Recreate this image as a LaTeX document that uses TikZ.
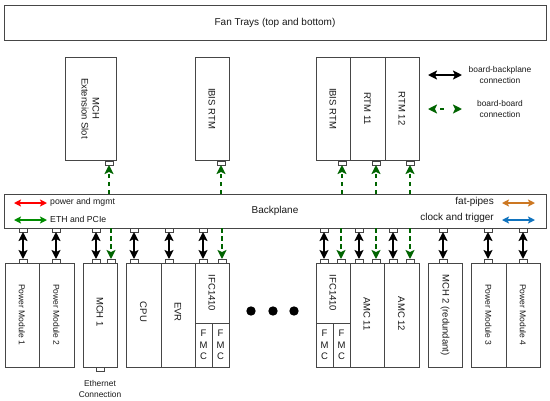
\documentclass[tikz,border=0pt]{standalone}
\usepackage{fontspec}
\setmainfont{Liberation Sans}
\usetikzlibrary{arrows.meta}
\definecolor{linegray}{RGB}{70,70,70}
\definecolor{txt}{RGB}{25,25,25}
\definecolor{pwrred}{RGB}{255,0,0}
\definecolor{ethgreen}{RGB}{0,140,0}
\definecolor{dgreen}{RGB}{0,100,0}
\definecolor{fatorange}{RGB}{204,119,34}
\definecolor{clkblue}{RGB}{16,115,190}
\begin{document}
\begin{tikzpicture}[x=1pt,y=-1pt,
  box/.style={draw=linegray, line width=1pt, inner sep=0pt, outer sep=0pt, anchor=north west, fill=white},
  pinbox/.style={draw=linegray, line width=0.9pt, fill=white, minimum width=8pt, minimum height=4pt, inner sep=0pt, outer sep=0pt},
  lbl/.style={font=\fontsize{9.5}{11}\selectfont, text=txt, rotate=-90, align=center, inner sep=0pt},
  slbl/.style={font=\fontsize{8.5}{10}\selectfont, text=txt, rotate=-90, align=center, inner sep=0pt},
  tiny/.style={font=\fontsize{8.4}{11}\selectfont, text=txt, align=center, inner sep=0pt},
  bb/.style={{Stealth[length=9pt,width=9pt,inset=2pt]}-{Stealth[length=9pt,width=9pt,inset=2pt]}, line width=2.2pt, black},
  gd/.style={-{Stealth[length=9pt,width=9pt,inset=2pt]}, line width=2.2pt, dgreen, dash pattern=on 4.5pt off 3.5pt},
  legarrow/.style={{Stealth[length=7pt,width=7pt,inset=1.5pt]}-{Stealth[length=7pt,width=7pt,inset=1.5pt]}, line width=1.6pt}
]
\useasboundingbox (0,0) rectangle (550,400);

% Fan trays
\node[box, minimum width=542pt, minimum height=35pt] (fan) at (4,5) {};
\node[font=\fontsize{10}{12}\selectfont, text=txt] (fantxt) at (fan.center) {Fan Trays (top and bottom)};

% Top boards
\node[box, minimum width=51pt, minimum height=103pt] (mchx) at (65,57) {};
\node[lbl] (mchxt) at (mchx.center) {MCH\\Extension Slot};
\node[box, minimum width=34pt, minimum height=103pt] (ibis1) at (195,57) {};
\node[lbl] (ibis1t) at (ibis1.center) {IBIS RTM};
\node[box, minimum width=34pt, minimum height=103pt] (ibis2) at (316,57) {};
\node[lbl] (ibis2t) at (ibis2.center) {IBIS RTM};
\node[box, minimum width=35pt, minimum height=103pt] (rtm11) at (350,57) {};
\node[lbl] (rtm11t) at (rtm11.center) {RTM 11};
\node[box, minimum width=34pt, minimum height=103pt] (rtm12) at (385,57) {};
\node[lbl] (rtm12t) at (rtm12.center) {RTM 12};

% Legend
\coordinate (la1) at (428,75); \coordinate (la2) at (462,75);
\draw[bb] (la1) -- (la2);
\node[tiny] (lt1) at (500,75) {board-backplane\\connection};
\coordinate (lb1) at (428,109); \coordinate (lb2) at (462,109);
\draw[{Stealth[length=9pt,width=9pt,inset=2pt]}-{Stealth[length=9pt,width=9pt,inset=2pt]}, line width=2.2pt, dgreen, dash pattern=on 0pt off 6pt on 4pt off 10pt] (lb1) -- (lb2);
\node[tiny] (lt2) at (500,109) {board-board\\connection};

% Backplane
\node[box, minimum width=542pt, minimum height=34pt] (bp) at (4,194) {};
\node[font=\fontsize{10}{12}\selectfont, text=txt] (bptxt) at (275,211) {Backplane};
\coordinate (r1) at (14,203); \coordinate (r2) at (47,203);
\draw[legarrow, pwrred] (r1) -- (r2);
\node[font=\fontsize{8.7}{10}\selectfont, text=txt, anchor=west, inner sep=0pt] (pwr) at (50,202) {power and mgmt};
\coordinate (g1) at (14,220); \coordinate (g2) at (47,220);
\draw[legarrow, ethgreen] (g1) -- (g2);
\node[font=\fontsize{8.7}{10}\selectfont, text=txt, anchor=west, inner sep=0pt] (eth) at (50,219) {ETH and PCIe};
\coordinate (o1) at (502,203); \coordinate (o2) at (535,203);
\draw[legarrow, fatorange] (o1) -- (o2);
\node[font=\fontsize{10}{12}\selectfont, text=txt, anchor=east, inner sep=0pt] (fat) at (494,202) {fat-pipes};
\coordinate (c1) at (502,220); \coordinate (c2) at (535,220);
\draw[legarrow, clkblue] (c1) -- (c2);
\node[font=\fontsize{10}{12}\selectfont, text=txt, anchor=east, inner sep=0pt] (clk) at (494,218) {clock and trigger};

% Bottom boards
\node[box, minimum width=34pt, minimum height=104pt] (pm1) at (5,263) {};
\node[slbl] (pm1t) at (pm1.center) {Power Module 1};
\node[box, minimum width=35pt, minimum height=104pt] (pm2) at (39,263) {};
\node[slbl] (pm2t) at (pm2.center) {Power Module 2};
\node[box, minimum width=34pt, minimum height=104pt] (mch1) at (83,263) {};
\node[lbl] (mch1t) at ([yshift=3pt]mch1.center) {MCH 1};
\node[box, minimum width=35pt, minimum height=104pt] (cpu) at (126,263) {};
\node[lbl] (cput) at ([yshift=3pt]cpu.center) {CPU};
\node[box, minimum width=34pt, minimum height=104pt] (evr) at (161,263) {};
\node[lbl] (evrt) at ([yshift=3pt]evr.center) {EVR};
\node[box, minimum width=34pt, minimum height=104pt] (ifca) at (195,263) {};
\node[box, minimum width=17pt, minimum height=44pt] (fmca1) at (195,323) {};
\node[box, minimum width=17pt, minimum height=44pt] (fmca2) at (212,323) {};
\node[lbl] (ifcat) at (212,293) {IFC1410};
\node[tiny, font=\fontsize{9.5}{11.5}\selectfont] (fmca1t) at (fmca1.center) {F\\M\\C};
\node[tiny, font=\fontsize{9.5}{11.5}\selectfont] (fmca2t) at (fmca2.center) {F\\M\\C};

\node[box, minimum width=34pt, minimum height=104pt] (ifcb) at (316,263) {};
\node[box, minimum width=17pt, minimum height=44pt] (fmcb1) at (316,323) {};
\node[box, minimum width=17pt, minimum height=44pt] (fmcb2) at (333,323) {};
\node[lbl] (ifcbt) at (333,293) {IFC1410};
\node[tiny, font=\fontsize{9.5}{11.5}\selectfont] (fmcb1t) at (fmcb1.center) {F\\M\\C};
\node[tiny, font=\fontsize{9.5}{11.5}\selectfont] (fmcb2t) at (fmcb2.center) {F\\M\\C};
\node[box, minimum width=34pt, minimum height=104pt] (amc11) at (350,263) {};
\node[lbl] (amc11t) at ([yshift=1pt]amc11.center) {AMC 11};
\node[box, minimum width=35pt, minimum height=104pt] (amc12) at (384,263) {};
\node[lbl] (amc12t) at ([yshift=1pt]amc12.center) {AMC 12};
\node[box, minimum width=34pt, minimum height=104pt] (mch2) at (428,263) {};
\node[lbl] (mch2t) at (mch2.center) {MCH 2 (redundant)};
\node[box, minimum width=35pt, minimum height=104pt] (pm3) at (471,263) {};
\node[slbl] (pm3t) at (pm3.center) {Power Module 3};
\node[box, minimum width=34pt, minimum height=104pt] (pm4) at (506,263) {};
\node[slbl] (pm4t) at (pm4.center) {Power Module 4};

% dots
\fill[black] (251,311) circle (4.7pt);
\fill[black] (273,311) circle (4.7pt);
\fill[black] (294,311) circle (4.7pt);

% Ethernet connection
\node[pinbox] (eth1) at (100,369) {};
\node[tiny] (etht) at (100,389) {Ethernet\\Connection};

% Black board-backplane connections
\foreach \i/\x in {1/23,2/56,3/96,4/134,5/169,6/203,7/324,8/359,9/393,10/443,11/488,12/523}{
  \node[pinbox] (bpp\i) at (\x,230) {};
  \node[pinbox] (bdp\i) at (\x,261) {};
  \draw[bb] (bpp\i.south) -- (bdp\i.north);
}

% Green board-board connections (bottom)
\foreach \i/\x in {1/111,2/222,3/341,4/376,5/410}{
  \node[pinbox] (gbp\i) at (\x,261) {};
  \draw[gd] (gbp\i.north |- bp.south) -- (gbp\i.north);
}

% Green board-board connections (top)
\foreach \i/\x in {1/109,2/221,3/342,4/376,5/410}{
  \node[pinbox] (gtp\i) at (\x,163) {};
  \draw[gd] (gtp\i.south |- bp.north) -- (gtp\i.south);
}
\end{tikzpicture}
\end{document}
